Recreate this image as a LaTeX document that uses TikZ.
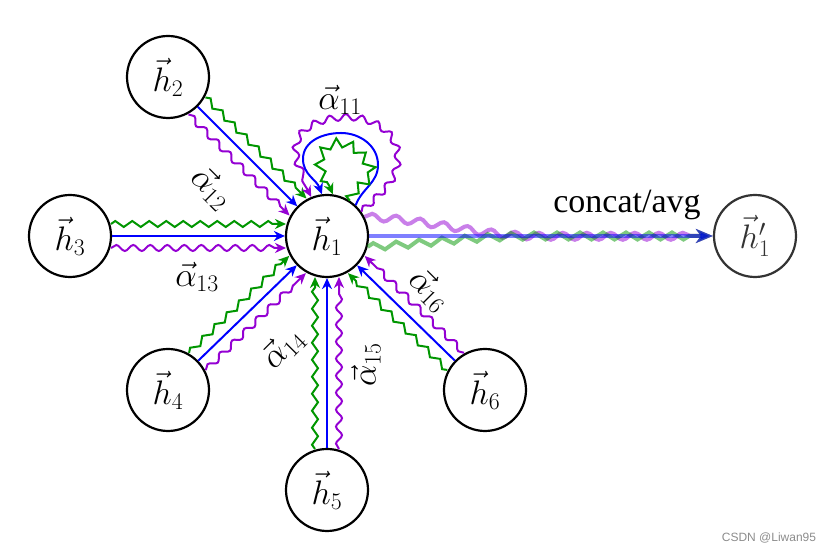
\RequirePackage{fix-cm}
\documentclass[tikz,border=0pt]{standalone}
\usepackage{fontspec}
\newfontfamily\timesf{Liberation Serif}
\newfontfamily\sansf{Liberation Sans}
\usetikzlibrary{calc,decorations.pathmorphing,arrows.meta}
\definecolor{gcol}{RGB}{0,150,0}
\definecolor{pcol}{RGB}{148,0,211}
\begin{document}
\begin{tikzpicture}[x=1pt,y=1pt,
 nd/.style={circle,draw,line width=2.2pt,minimum size=82pt,inner sep=0pt,font=\fontsize{34}{40}\selectfont},
 tip/.style={-{Stealth[length=11pt,width=10pt,inset=3.5pt]}},
 bl/.style={blue,line width=2pt,tip},
 gr/.style={gcol,line width=2pt,tip,decorate,decoration={zigzag,amplitude=3pt,segment length=17pt,post length=10pt}},
 pu/.style={pcol,line width=2pt,tip,decorate,decoration={snake,amplitude=3pt,segment length=17pt,post length=10pt}},
 bigtip/.style={-{Stealth[length=17pt,width=14pt,inset=5pt]}},
 obl/.style={blue,line width=4pt,opacity=0.5,bigtip},
 ogr/.style={gcol,line width=4pt,opacity=0.5,bigtip,decorate,decoration={zigzag,amplitude=3.5pt,segment length=23pt,post length=16pt}},
 opu/.style={pcol,line width=4pt,opacity=0.5,bigtip,decorate,decoration={snake,amplitude=3.5pt,segment length=24pt,post length=16pt}},
 lab/.style={font=\fontsize{34}{40}\selectfont,inner sep=0pt}]
\useasboundingbox (0,0) rectangle (831,553);
\node[nd] (h1) at (327,317) {$\vec{h}_1$};
\node[nd] (h2) at (168,476) {$\vec{h}_2$};
\node[nd] (h3) at (70,317) {$\vec{h}_3$};
\node[nd] (h4) at (168,163) {$\vec{h}_4$};
\node[nd] (h5) at (327,63) {$\vec{h}_5$};
\node[nd] (h6) at (485,163) {$\vec{h}_6$};
\node[nd,draw=black!80,text=black!80] (h1p) at (755,317) {$\vec{h}'_1$};

\foreach \n in {h2,h3,h4,h5,h6}{
  \draw[bl] (\n) -- (h1);
  \coordinate (ga) at ($(\n)!12pt!90:(h1)$);
  \coordinate (gb) at ($(h1)!12pt!-90:(\n)$);
  \draw[gr] ($(ga)!41pt!(gb)$) -- ($(gb)!41pt!(ga)$);
  \coordinate (pa) at ($(\n)!12pt!-90:(h1)$);
  \coordinate (pb) at ($(h1)!12pt!90:(\n)$);
  \draw[pu] ($(pa)!41pt!(pb)$) -- ($(pb)!41pt!(pa)$);
}

\draw[pu,decoration={segment length=16pt,amplitude=3.2pt}] (h1.35) to[out=45,in=-90] (395,393) to[out=90,in=0] (345,433) to[out=180,in=90] (293,400) to[out=-90,in=115] (h1.112);
\draw[bl] (h1.47) to[out=70,in=-90] (378,388) to[out=90,in=0] (341,420) to[out=180,in=90] (303,394) to[out=-90,in=110] (h1.97);
\draw[gr,decoration={segment length=15pt,amplitude=4.5pt,post length=9pt}] (h1.57) to[out=80,in=-60] (370,386) to[out=120,in=0] (338,410) to[out=180,in=100] (320,386) to[out=-80,in=105] (h1.82);

\draw[opu] (h1.27) to[out=-3,in=180] (540,317) -- (h1p.west);
\draw[ogr] (h1.-15) to[out=3,in=180] (540,317) -- (h1p.west);
\draw[obl] (h1.east) -- (h1p.west);

\node[lab] (a11) at (340,453) {$\vec{\alpha}_{11}$};
\node[lab,rotate=-45] (a12) at (212,365) {$\vec{\alpha}_{12}$};
\node[lab] (a13) at (197,276) {$\vec{\alpha}_{13}$};
\node[lab,rotate=45] (a14) at (283,205) {$\vec{\alpha}_{14}$};
\node[lab,rotate=90] (a15) at (366,188) {$\vec{\alpha}_{15}$};
\node[lab,rotate=-45] (a16) at (430,263) {$\vec{\alpha}_{16}$};
\node[lab,font=\timesf\fontsize{34}{40}\selectfont] (cc) at (627,348) {concat/avg};
\node[font=\sansf\fontsize{12}{13}\selectfont,text=black!45] (wm) at (769,15) {CSDN @Liwan95};
\end{tikzpicture}
\end{document}
